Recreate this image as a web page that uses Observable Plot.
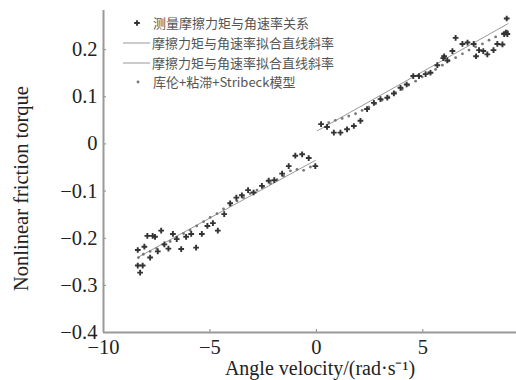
<!DOCTYPE html>
<html><head><meta charset="utf-8">
<script src="https://cdn.jsdelivr.net/npm/d3@7"></script>
<script src="https://cdn.jsdelivr.net/npm/@observablehq/plot@0.6"></script>
<style>
body{margin:0;background:#fff;}
#wrap{position:relative;width:516px;height:380px;}
.lg{position:absolute;height:20px;line-height:20px;font-family:"Noto Sans CJK SC","Liberation Serif";font-size:13px;color:#555;white-space:nowrap;}
.lg svg{position:absolute;left:0;top:0;}
</style></head><body><div id="wrap"></div>
<script>
// Measured friction torque (crosses)
const measV = [-8.39,-8.39,-8.16,-8.28,-8.08,-7.94,-7.69,-7.58,-7.29,-7.81,-7.45,-7.14,-6.95,-6.74,-6.56,-6.35,-6.12,-5.88,-5.65,-5.38,-5.12,-4.86,-4.63,-4.33,-4.05,-3.76,-3.5,-3.21,-2.95,-2.56,-2.24,-1.98,-1.61,-1.30,-0.99,-0.67,-0.36,-0.05,
  0.22,0.5,0.82,1.13,1.44,1.76,2.07,2.38,2.70,3.01,3.33,3.64,3.95,4.24,4.55,4.82,5.13,5.36,5.68,5.96,6.0,6.15,6.39,6.54,6.86,7.1,7.39,7.5,7.64,7.84,8.03,8.32,8.50,8.74,8.82,8.9,8.97,8.94];
const measT = [-0.225,-0.258,-0.258,-0.273,-0.218,-0.195,-0.195,-0.197,-0.184,-0.241,-0.228,-0.213,-0.222,-0.191,-0.202,-0.223,-0.197,-0.191,-0.220,-0.191,-0.174,-0.168,-0.184,-0.149,-0.126,-0.114,-0.109,-0.098,-0.103,-0.089,-0.078,-0.077,-0.063,-0.047,-0.025,-0.022,-0.030,-0.047,
  0.042,0.036,0.024,0.024,0.031,0.038,0.049,0.074,0.087,0.095,0.098,0.107,0.119,0.126,0.144,0.144,0.148,0.151,0.167,0.182,0.186,0.177,0.197,0.225,0.212,0.215,0.212,0.186,0.199,0.197,0.190,0.199,0.212,0.211,0.233,0.236,0.233,0.266];
// Coulomb + viscous + Stribeck model (small dots)
const modelV = [-8.36,-8.13,-7.81,-7.50,-7.18,-6.87,-6.56,-6.24,-5.93,-5.62,-5.30,-4.99,-4.67,-4.36,-4.05,-3.73,-3.42,-3.11,-2.79,-2.48,-2.16,-1.85,-1.54,-1.22,-0.91,-0.60,-0.28,-0.05,
  0.58,0.89,1.21,1.52,1.84,2.15,2.46,2.78,3.09,3.40,3.72,4.03,4.34,4.66,4.97,5.28,5.60,5.92,6.23,6.54,6.86,7.17,7.48,7.80,8.11,8.42,8.74,8.97];
const modelT = [-0.241,-0.234,-0.228,-0.222,-0.214,-0.207,-0.198,-0.190,-0.183,-0.174,-0.165,-0.156,-0.148,-0.138,-0.130,-0.121,-0.114,-0.105,-0.098,-0.091,-0.084,-0.076,-0.068,-0.057,-0.054,-0.056,-0.049,-0.047,
  0.045,0.050,0.054,0.059,0.064,0.071,0.078,0.085,0.093,0.100,0.109,0.116,0.125,0.133,0.142,0.151,0.158,0.167,0.176,0.183,0.191,0.199,0.206,0.212,0.220,0.227,0.234,0.239];
// Fitted straight lines (negative / positive branches)
const fitNegV = [-8.4, -0.05];
const fitNegT = [-0.241, -0.035];
const fitPosV = [0.05, 9.0];
const fitPosT = [0.028, 0.255];
const xTicks = [-10, -5, 0, 5];
const yTicks = [-0.4, -0.3, -0.2, -0.1, 0, 0.1, 0.2];
const legendLabels = ["测量摩擦力矩与角速率关系", "摩擦力矩与角速率拟合直线斜率", "摩擦力矩与角速率拟合直线斜率", "库伦+粘滞+Stribeck模型"];
const xLabel = "Angle velocity/(rad·s⁻¹)";
const yLabel = "Nonlinear friction torque";

const meas = measV.map((v, i) => ({v, t: measT[i]}));
const model = modelV.map((v, i) => ({v, t: modelT[i]}));
const fitNeg = fitNegV.map((v, i) => ({v, t: fitNegT[i]}));
const fitPos = fitPosV.map((v, i) => ({v, t: fitPosT[i]}));
const fmt = d => d === 0 ? "0" : d3.format(".1f")(d);
const fmtX = d => d3.format("d")(d);

const W = 516, H = 380, mL = 103, mR = 0, mT = 10, mB = 48;
const plot = Plot.plot({
  width: W, height: H, marginLeft: mL, marginRight: mR, marginTop: mT, marginBottom: mB,
  x: {domain: [-10, 9.4]},
  y: {domain: [-0.4, 0.283]},
  style: {fontFamily: "Liberation Serif", fontSize: "20.5px", color: "#222", background: "white"},
  marks: [
    Plot.axisY({ticks: yTicks, tickSize: 0, tickPadding: 6, tickFormat: fmt, label: null}),
    Plot.axisX({ticks: xTicks, tickSize: 0, tickPadding: 7, tickFormat: fmtX, label: null}),
    Plot.tickY(yTicks, {y: d => d, stroke: "#888", insetRight: W - mL - mR - 3}),
    Plot.tickX(xTicks, {x: d => d, stroke: "#888", insetTop: H - mT - mB - 3}),
    Plot.ruleX([-10], {stroke: "#999", strokeWidth: 2}),
    Plot.ruleY([-0.4], {stroke: "#999", strokeWidth: 2}),
    Plot.line(fitNeg, {x: "v", y: "t", stroke: "#999", strokeWidth: 1}),
    Plot.line(fitPos, {x: "v", y: "t", stroke: "#999", strokeWidth: 1}),
    Plot.dot(model, {x: "v", y: "t", r: 1.4, fill: "#777", stroke: "none"}),
    Plot.dot(meas, {x: "v", y: "t", symbol: "cross", r: 2.4, fill: "#333", stroke: "none"}),
    Plot.text([xLabel], {frameAnchor: "bottom", dx: 10, dy: 42, fontSize: 20, fill: "#222"}),
    Plot.text([yLabel], {frameAnchor: "left", textAnchor: "middle", rotate: -90, dx: -82, dy: 17, fontSize: 20.5, fill: "#222"})
  ]
});
const wrap = document.getElementById("wrap");
wrap.appendChild(plot);

// legend overlay
const rows = [
  {y: 23, kind: "plus"}, {y: 43, kind: "line"}, {y: 63, kind: "line"}, {y: 82, kind: "dot"}
];
rows.forEach((r, i) => {
  const d = document.createElement("div");
  d.className = "lg";
  d.style.left = "120px";
  d.style.top = (r.y - 10) + "px";
  d.style.paddingLeft = (r.kind === "line" ? 32 : 33) + "px";
  let sym = "";
  if (r.kind === "plus") sym = `<path transform="translate(17,10)" d="${d3.symbol(d3.symbolCross, 18)()}" fill="#333"/>`;
  if (r.kind === "line") sym = `<line x1="3" x2="30" y1="10" y2="10" stroke="#999" stroke-width="1"/>`;
  if (r.kind === "dot") sym = `<circle cx="18" cy="10" r="1.4" fill="#777"/>`;
  d.innerHTML = `<svg width="32" height="20">${sym}</svg>${legendLabels[i]}`;
  wrap.appendChild(d);
});
</script>
</body></html>
